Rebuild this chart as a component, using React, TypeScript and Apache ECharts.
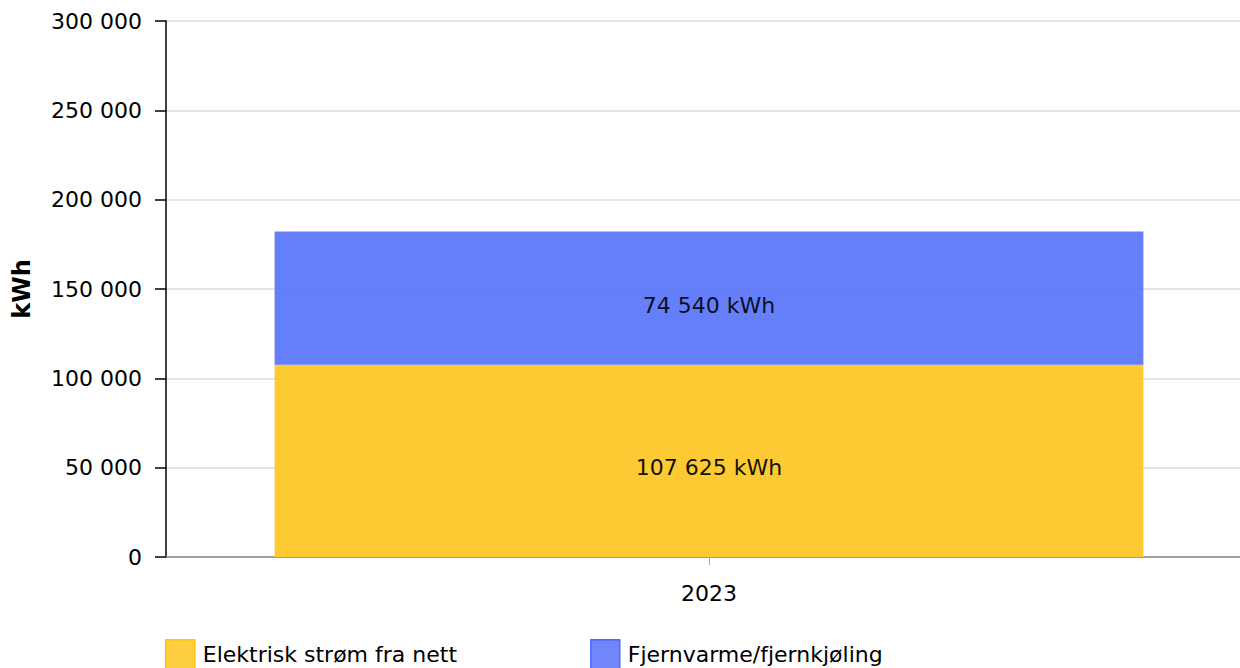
import React, { useEffect, useRef } from "react";
import * as echarts from "echarts";

const categories = ["2023"];
const seriesNames = ["Elektrisk strøm fra nett", "Fjernvarme/fjernkjøling"];
const elektrisk = [107625];
const fjernvarme = [74540];
const yTicks = { min: 0, max: 300000, interval: 50000 };

const fmt = (v: number) => String(Math.round(v)).replace(/\B(?=(\d{3})+(?!\d))/g, " ");

export default function App() {
  const ref = useRef<HTMLDivElement>(null);
  useEffect(() => {
    if (!ref.current) return;
    const chart = echarts.init(ref.current, undefined, { renderer: "svg" });
    const font = "DejaVu Sans";
    chart.setOption({
      animation: false,
      textStyle: { fontFamily: font },
      grid: { left: 166, right: -12, top: 21, bottom: 111, containLabel: false, outerBoundsMode: "none" },
      legend: {
        left: 160,
        top: 634,
        padding: 5,
        itemWidth: 29,
        itemHeight: 30,
        itemGap: 133,
        icon: "rect",
        textStyle: { fontFamily: font, fontSize: 22, color: "#000", padding: [0, 0, 0, 3] },
        data: [
          { name: seriesNames[0], itemStyle: { color: "#FDCA33", borderColor: "#FFC000", borderWidth: 1.5 } },
          { name: seriesNames[1], itemStyle: { color: "#6279F9", borderColor: "#3F5FFF", borderWidth: 1.5 } },
        ],
      },
      xAxis: {
        type: "category",
        data: categories,
        axisLine: { lineStyle: { color: "#888", width: 1.5 } },
        axisTick: { show: true, length: 8, lineStyle: { color: "#aaa", width: 1 }, alignWithLabel: true },
        axisLabel: { fontFamily: font, fontSize: 22, color: "#000", margin: 25 },
      },
      yAxis: {
        type: "value",
        min: yTicks.min,
        max: yTicks.max,
        interval: yTicks.interval,
        name: "kWh",
        nameLocation: "middle",
        nameGap: 132,
        nameRotate: 90,
        nameTextStyle: { fontFamily: font, fontSize: 24, fontWeight: "bold", color: "#000" },
        axisLine: { show: true, lineStyle: { color: "#000", width: 1.5 } },
        axisTick: { show: true, length: 11, lineStyle: { color: "#000", width: 1.5 } },
        axisLabel: { fontFamily: font, fontSize: 22, color: "#000", margin: 24, formatter: (v: number) => fmt(v) },
        splitLine: { show: true, lineStyle: { color: "#dddddd", width: 1.5 } },
      },
      series: [
        {
          name: seriesNames[0],
          type: "bar",
          stack: "total",
          data: elektrisk,
          barWidth: "80%",
          itemStyle: { color: "#FDC624", opacity: 0.93 },
          label: {
            show: true,
            position: "inside",
            offset: [0, 7],
            fontFamily: font,
            fontSize: 22,
            color: "#000",
            formatter: (p: any) => fmt(p.value) + " kWh",
          },
        },
        {
          name: seriesNames[1],
          type: "bar",
          stack: "total",
          data: fjernvarme,
          barWidth: "80%",
          itemStyle: { color: "#5470F9", opacity: 0.9 },
          label: {
            show: true,
            position: "inside",
            offset: [0, 7],
            fontFamily: font,
            fontSize: 22,
            color: "#000",
            formatter: (p: any) => fmt(p.value) + " kWh",
          },
        },
      ],
    });
    return () => chart.dispose();
  }, []);
  return (
    <div style={{ position: "fixed", left: 0, top: 0, width: 1240, height: 668, overflow: "hidden", background: "#fff" }}>
      <div ref={ref} style={{ width: 1240, height: 668 }} />
    </div>
  );
}
